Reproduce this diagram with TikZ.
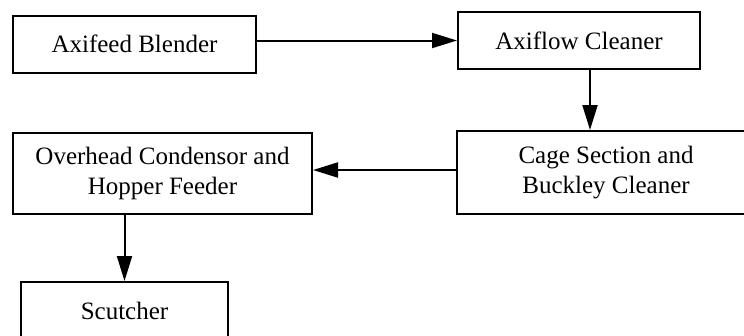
\documentclass[tikz,border=0pt]{standalone}
\usepackage{fontspec}
\setmainfont{Liberation Serif}
\usetikzlibrary{arrows.meta}

\begin{document}
\begin{tikzpicture}[
		x=0.4pt,
		y=-0.4pt,
		stage/.style={
			draw,
			line width=0.8pt,
			inner sep=0pt,
			align=center,
			font=\fontsize{10pt}{12pt}\selectfont,
		},
		flow/.style={
			line width=0.8pt,
			-{Triangle[length=10pt,width=6pt]},
		},
	]
		\useasboundingbox (0,0) rectangle (744,335);
		\clip (0,0) rectangle (744,335);

		\node[stage, minimum width=97.2pt, minimum height=22.8pt] (blender) at (134.5,44) {Axifeed Blender};
		\node[stage, minimum width=96.8pt, minimum height=22.8pt] (axiflow) at (579,40.5) {Axiflow Cleaner};
		\node[stage, minimum width=119.2pt, minimum height=33.2pt] (cage) at (606,172.5) {Cage Section and\\Buckley Cleaner};
		\node[stage, minimum width=119.6pt, minimum height=32.4pt] (condensor) at (162.5,173.5) {Overhead Condensor and\\Hopper Feeder};
		\node[stage, minimum width=82.8pt, minimum height=22.8pt] (scutcher) at (124.5,310.5) {Scutcher};

		\draw[flow] (blender.east |- axiflow.west) -- (axiflow.west);
		\draw[flow] ([xshift=4.4pt]axiflow.south) -- ([xshift=4.4pt]axiflow.south |- cage.north);
		\draw[flow] ([yshift=1pt]cage.west) -- ([yshift=1pt]cage.west -| condensor.east);
		\draw[flow] (condensor.south -| scutcher.north) -- (scutcher.north);
	\end{tikzpicture}
\end{document}
